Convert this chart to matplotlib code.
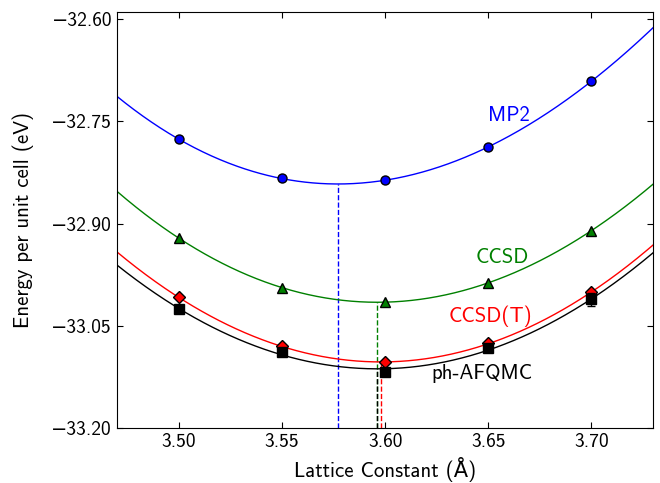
import matplotlib
matplotlib.use("Agg")
import matplotlib.pyplot as plt
import numpy as np

plt.rcParams['font.family'] = ['cmss10', 'DejaVu Sans']
plt.rcParams['mathtext.fontset'] = 'cm'
plt.rcParams['xtick.direction'] = 'in'
plt.rcParams['ytick.direction'] = 'in'
plt.rcParams['xtick.top'] = True
plt.rcParams['ytick.right'] = True

lattice = np.array([3.50, 3.55, 3.60, 3.65, 3.70])
mp2 = np.array([-32.776, -32.8335, -32.8365, -32.787, -32.691])
ccsd = np.array([-32.921, -32.9935, -33.0150, -32.9865, -32.910])
ccsd_t = np.array([-33.008, -33.0795, -33.1030, -33.0755, -33.000])
afqmc = np.array([-33.025, -33.0885, -33.1180, -33.0815, -33.011])
afqmc_err = np.array([0.006, 0.004, 0.005, 0.005, 0.009])

methods = ['MP2', 'CCSD', 'CCSD(T)', 'ph-AFQMC']
colors = ['b', 'g', 'r', 'k']
markers = ['o', '^', 'D', 's']
label_pos = [(3.660, -32.741), (3.657, -32.949), (3.651, -33.035), (3.647, -33.119)]

xlim = (3.47, 3.73)
ylim = (-33.20, -32.59)


def tick_fmt(v, pos):
    return ('%.2f' % v).replace('-', '\u2212')


fig = plt.figure(figsize=(6.6, 4.83), dpi=100)
ax = fig.add_axes([0.177, 0.113, 0.813, 0.8615])

xx = np.linspace(xlim[0], xlim[1], 500)
for i, e in enumerate([mp2, ccsd, ccsd_t, afqmc]):
    c = colors[i]
    p = np.polyfit(lattice, e, 3)
    yy = np.polyval(p, xx)
    ax.plot(xx, yy, '-', color=c, lw=1)
    # minimum of the fit
    xm = xx[np.argmin(yy)]
    ax.plot([xm, xm], [ylim[0], yy.min()], '--', color=c, lw=1)
    if methods[i] == 'ph-AFQMC':
        ax.errorbar(lattice, e, yerr=afqmc_err, fmt=markers[i], color=c,
                    mec='k', ms=6.5, ecolor='k', capsize=3, elinewidth=1)
    else:
        ax.plot(lattice, e, markers[i], color=c, mec='k', ms=6.5)
    ax.text(label_pos[i][0], label_pos[i][1], methods[i], color=c,
            fontsize=15, ha='center', va='center')

ax.set_xlim(xlim)
ax.set_ylim(ylim)
ax.set_xticks([3.50, 3.55, 3.60, 3.65, 3.70])
ax.set_yticks([-33.20, -33.05, -32.90, -32.75, -32.60])
ax.xaxis.set_major_formatter(plt.FuncFormatter(tick_fmt))
ax.yaxis.set_major_formatter(plt.FuncFormatter(tick_fmt))
ax.tick_params(labelsize=14, length=4)
ax.set_xlabel('Lattice Constant (Å)', fontsize=15)
ax.set_ylabel('Energy per unit cell (eV)', fontsize=15, labelpad=12)

fig.savefig('out.png', dpi=100)
